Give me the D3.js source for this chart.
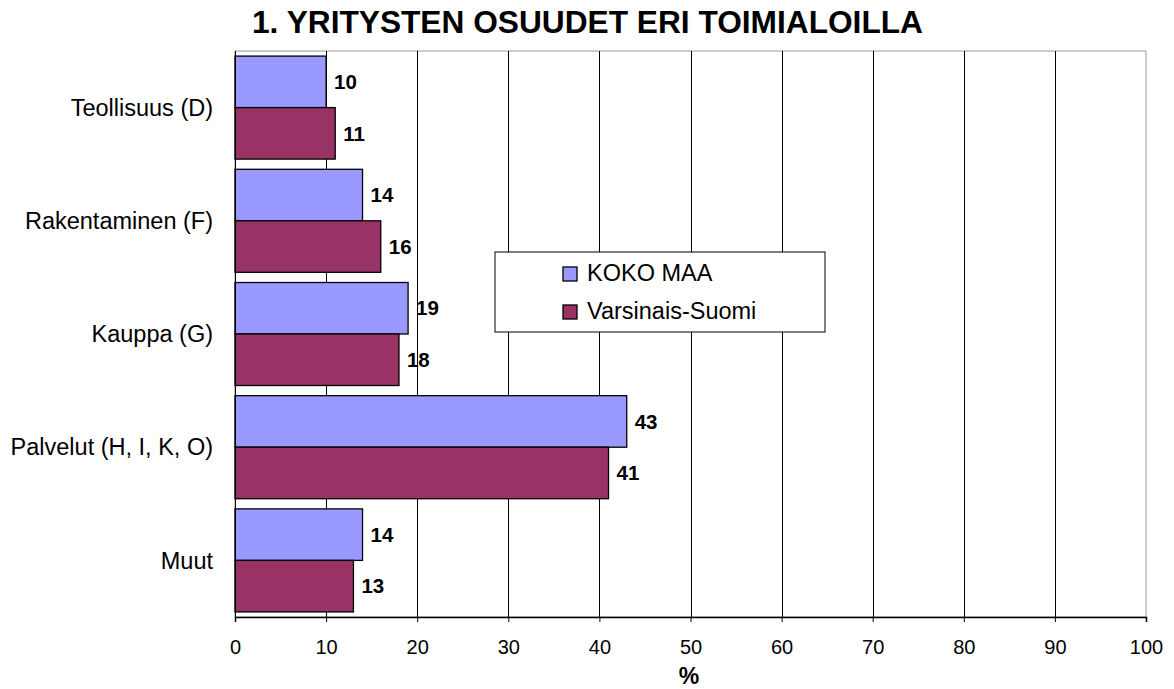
<!DOCTYPE html>
<html>
<head>
<meta charset="utf-8">
<script src="https://cdn.jsdelivr.net/npm/d3@7"></script>
<style>
  body { margin: 0; background: #fff; }
  svg { font-family: Arial, "Liberation Sans", sans-serif; }
</style>
</head>
<body>
<svg id="chart" width="1174" height="689"></svg>
<script>
// data
var categories = ['Teollisuus (D)', 'Rakentaminen (F)', 'Kauppa (G)', 'Palvelut (H, I, K, O)', 'Muut']
var series_names = ['KOKO MAA', 'Varsinais-Suomi']
var koko_maa = [10, 14, 19, 43, 14]
var varsinais_suomi = [11, 16, 18, 41, 13]
var x_ticks = [0, 10, 20, 30, 40, 50, 60, 70, 80, 90, 100]
var colors = ['#9999ff', '#993366']

var svg = d3.select('#chart')
var left = 235, right = 1146, top_y = 51, bottom = 617

var x = d3.scaleLinear().domain([0, 100]).range([left, right])
var y = d3.scaleBand().domain(categories).range([top_y, bottom])
  .paddingInner(0.09).paddingOuter(0.045)
var y_inner = d3.scaleBand().domain(series_names).range([0, y.bandwidth()])

// title
svg.append('text')
  .attr('x', 252).attr('y', 33)
  .attr('font-size', 31).attr('font-weight', 'bold')
  .attr('textLength', 671).attr('lengthAdjust', 'spacingAndGlyphs')
  .text('1. YRITYSTEN OSUUDET ERI TOIMIALOILLA')

// plot frame (top / right grey)
svg.append('rect')
  .attr('x', left).attr('y', top_y)
  .attr('width', right - left).attr('height', bottom - top_y)
  .attr('fill', 'none').attr('stroke', '#9a9a9a').attr('stroke-width', 1)

// gridlines
svg.append('g').selectAll('line')
  .data(x_ticks.filter(function(d) { return d > 0 && d < 100 }))
  .join('line')
  .attr('x1', function(d) { return Math.round(x(d)) + 0.5 })
  .attr('x2', function(d) { return Math.round(x(d)) + 0.5 })
  .attr('y1', top_y).attr('y2', bottom)
  .attr('stroke', '#000').attr('stroke-width', 1)

// bars
var rows = categories.map(function(c, i) {
  return { cat: c, vals: [koko_maa[i], varsinais_suomi[i]] }
})
var groups = svg.append('g').selectAll('g')
  .data(rows).join('g')
  .attr('transform', function(d) { return 'translate(0,' + y(d.cat) + ')' })

groups.selectAll('rect')
  .data(function(d) { return d.vals.map(function(v, j) { return { name: series_names[j], v: v, j: j } }) })
  .join('rect')
  .attr('x', x(0))
  .attr('y', function(d) { return y_inner(d.name) })
  .attr('width', function(d) { return x(d.v) - x(0) })
  .attr('height', y_inner.bandwidth())
  .attr('fill', function(d) { return colors[d.j] })
  .attr('stroke', '#000').attr('stroke-width', 1.3)

groups.selectAll('text')
  .data(function(d) { return d.vals.map(function(v, j) { return { name: series_names[j], v: v } }) })
  .join('text')
  .attr('x', function(d) { return x(d.v) + 8 })
  .attr('y', function(d) { return y_inner(d.name) + y_inner.bandwidth() / 2 })
  .attr('dy', '0.35em')
  .attr('font-size', 20.5).attr('font-weight', 'bold')
  .text(function(d) { return d.v })

// y axis labels
svg.append('g').selectAll('text')
  .data(categories).join('text')
  .attr('x', 213)
  .attr('y', function(d) { return y(d) + y.bandwidth() / 2 })
  .attr('dy', '0.35em')
  .attr('text-anchor', 'end')
  .attr('font-size', 23.5)
  .text(function(d) { return d })

svg.append('line')
  .attr('x1', left + 0.5).attr('x2', left + 0.5)
  .attr('y1', top_y).attr('y2', bottom)
  .attr('stroke', '#000')

// x axis
var x_axis = d3.axisBottom(x).tickValues(x_ticks).tickSize(5).tickPadding(18)
var gx = svg.append('g')
  .attr('transform', 'translate(0,' + bottom + ')')
  .call(x_axis)
gx.select('.domain').attr('stroke', '#000').attr('stroke-width', 1.5)
gx.selectAll('.tick line').attr('stroke', '#000')
gx.selectAll('.tick text')
  .attr('font-size', 20).attr('font-family', 'Arial, "Liberation Sans", sans-serif')
  .attr('fill', '#000')

svg.append('text')
  .attr('x', 689).attr('y', 684)
  .attr('text-anchor', 'middle')
  .attr('font-size', 23).attr('font-weight', 'bold')
  .text('%')

// legend
var legend = svg.append('g').attr('transform', 'translate(495,252)')
legend.append('rect')
  .attr('width', 330).attr('height', 80)
  .attr('fill', '#fff').attr('stroke', '#000').attr('stroke-width', 1)
series_names.forEach(function(name, i) {
  legend.append('rect')
    .attr('x', 68).attr('y', 15 + i * 38)
    .attr('width', 14).attr('height', 14)
    .attr('fill', colors[i]).attr('stroke', '#000').attr('stroke-width', 1.3)
  legend.append('text')
    .attr('x', 92).attr('y', 29 + i * 38)
    .attr('font-size', 23.5)
    .text(name)
})
</script>
</body>
</html>
